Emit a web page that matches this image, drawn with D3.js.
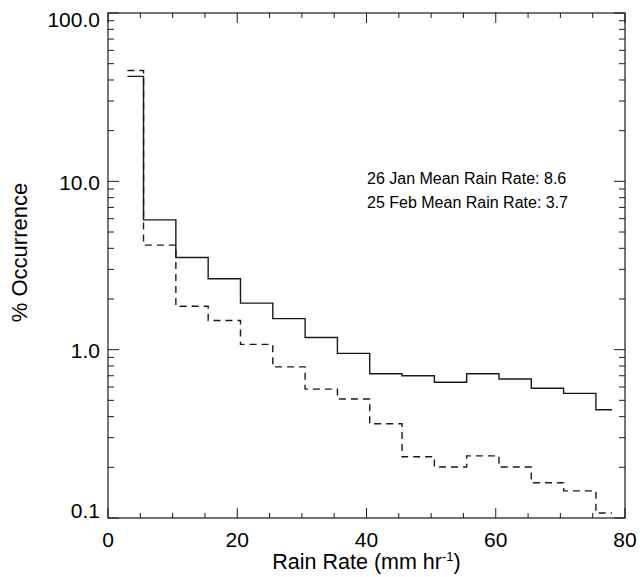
<!DOCTYPE html>
<html>
<head>
<meta charset="utf-8">
<script src="https://cdn.jsdelivr.net/npm/d3@7"></script>
<style>
  html, body { margin: 0; padding: 0; background: #fff; }
  svg { display: block; font-family: "Liberation Sans", Arial, Helvetica, sans-serif; }
</style>
</head>
<body>
<svg id="chart" width="640" height="577"></svg>
<script>
// ---- data ----
const binCenters = [3, 8, 13, 18, 23, 28, 33, 38, 43, 48, 53, 58, 63, 68, 73, 78];
const jan26 = [42, 5.9, 3.53, 2.64, 1.89, 1.53, 1.18, 0.95, 0.72, 0.70, 0.64, 0.72, 0.67, 0.59, 0.55, 0.44];
const feb25 = [45.5, 4.18, 1.81, 1.49, 1.075, 0.79, 0.583, 0.509, 0.363, 0.231, 0.201, 0.234, 0.201, 0.162, 0.145, 0.107];
const xTickMajor = [0, 20, 40, 60, 80];
const xTickMinor = [5, 10, 15, 25, 30, 35, 45, 50, 55, 65, 70, 75];
const yTickMajor = [0.1, 1, 10, 100];
const yTickLabels = ["0.1", "1.0", "10.0", "100.0"];
const legendLines = ["26 Jan Mean Rain Rate: 8.6", "25 Feb Mean Rain Rate: 3.7"];
const xTitle = "Rain Rate (mm hr";
const xTitleSup = "-1";
const yTitle = "% Occurrence";

// ---- layout ----
const L = 108, R = 625, T = 13, B = 518;
const svg = d3.select("#chart");
const x = d3.scaleLinear().domain([0, 80]).range([L, R]);
const y = d3.scaleLog().domain([0.1, 100]).range([B, T]);

const ink = "#1a1a1a";

// frame
svg.append("rect").attr("x", L).attr("y", T).attr("width", R - L).attr("height", B - T)
  .attr("fill", "none").attr("stroke", ink).attr("stroke-width", 1.2);

// y minor ticks
const yMinor = [];
[0.1, 1, 10].forEach(d => { for (let k = 2; k <= 9; k++) yMinor.push(d * k); });

const g = svg.append("g").attr("stroke", ink).attr("stroke-width", 1);
// left & right
yTickMajor.forEach(v => {
  g.append("line").attr("x1", L).attr("x2", L + 11).attr("y1", y(v)).attr("y2", y(v));
  g.append("line").attr("x1", R).attr("x2", R - 11).attr("y1", y(v)).attr("y2", y(v));
});
yMinor.forEach(v => {
  g.append("line").attr("x1", L).attr("x2", L + 6).attr("y1", y(v)).attr("y2", y(v));
  g.append("line").attr("x1", R).attr("x2", R - 6).attr("y1", y(v)).attr("y2", y(v));
});
// bottom & top
xTickMajor.forEach(v => {
  g.append("line").attr("x1", x(v)).attr("x2", x(v)).attr("y1", B).attr("y2", B - 10);
  g.append("line").attr("x1", x(v)).attr("x2", x(v)).attr("y1", T).attr("y2", T + 10);
});
xTickMinor.forEach(v => {
  g.append("line").attr("x1", x(v)).attr("x2", x(v)).attr("y1", B).attr("y2", B - 5);
  g.append("line").attr("x1", x(v)).attr("x2", x(v)).attr("y1", T).attr("y2", T + 5);
});

// tick labels
svg.append("g").selectAll("text").data(xTickMajor).join("text")
  .attr("x", d => x(d)).attr("y", 547)
  .attr("text-anchor", "middle").attr("font-size", 21).attr("fill", "#000")
  .text(d => d);

svg.append("g").selectAll("text").data(yTickMajor).join("text")
  .attr("x", 100).attr("y", (d, i) => {
    if (i === 0) return y(d);
    if (i === yTickMajor.length - 1) return y(d) + 14;
    return y(d) + 8.5;
  })
  .attr("text-anchor", "end").attr("font-size", 21).attr("fill", "#000")
  .text((d, i) => yTickLabels[i]);

// axis titles
const xt = svg.append("text").attr("x", (L + R) / 2).attr("y", 569)
  .attr("text-anchor", "middle").attr("font-size", 21.5).attr("fill", "#000");
xt.append("tspan").text(xTitle);
xt.append("tspan").attr("font-size", 13).attr("dy", -8).text(xTitleSup);
xt.append("tspan").attr("dy", 8).text(")");

svg.append("text").attr("transform", `translate(27,${(T + B) / 2 - 13}) rotate(-90)`)
  .attr("text-anchor", "middle").attr("font-size", 22).attr("fill", "#000")
  .text(yTitle);

// legend text
svg.append("g").selectAll("text").data(legendLines).join("text")
  .attr("x", 367).attr("y", (d, i) => 183.5 + i * 24.3)
  .attr("font-size", 16).attr("fill", "#000")
  .text(d => d);

// histograms
const line = d3.line().x(d => x(d[0])).y(d => y(d[1])).curve(d3.curveStep);
svg.append("path").datum(binCenters.map((c, i) => [c, jan26[i]]))
  .attr("d", line).attr("fill", "none").attr("stroke", ink).attr("stroke-width", 1.4);
svg.append("path").datum(binCenters.map((c, i) => [c, feb25[i]]))
  .attr("d", line).attr("fill", "none").attr("stroke", ink).attr("stroke-width", 1.4)
  .attr("stroke-dasharray", "7,5");
</script>
</body>
</html>
